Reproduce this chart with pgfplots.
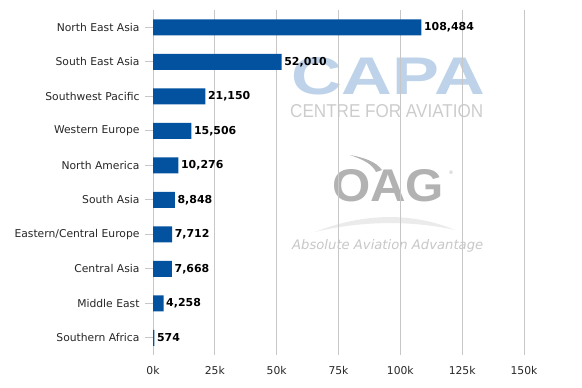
\documentclass[border=0pt]{standalone}
\usepackage{pgfplots}
\pgfplotsset{compat=1.18}
\usepackage{pgfplotstable}
\usepackage{fontspec}
\setmainfont{DejaVu Sans}
\newfontfamily\capafont{Liberation Sans}
\definecolor{barblue}{RGB}{2,82,160}
\definecolor{capablue}{RGB}{190,211,233}
\definecolor{oaggray}{RGB}{178,178,178}
\pgfplotstableread{
idx value label
0 108484 108,484
1 52010 52,010
2 21150 21,150
3 15506 15,506
4 10276 10,276
5 8848 8,848
6 7712 7,712
7 7668 7,668
8 4258 4,258
9 574 574
}\datatable
\begin{document}
\begin{tikzpicture}
\begin{scope}[x=1bp,y=1bp]
% watermarks
\node[anchor=south west, inner sep=0, text=capablue] at (291,-95) {\resizebox{194bp}{37bp}{\capafont\bfseries CAPA}};
\node[anchor=south west, inner sep=0, text=black!20] at (290,-118) {\resizebox{193bp}{13bp}{\capafont CENTRE FOR AVIATION}};
\node[anchor=south west, inner sep=0, text=oaggray] at (332,-202) {\resizebox{112bp}{32bp}{\capafont\bfseries OAG}};
\fill[oaggray] (350,-155) .. controls (364,-160) and (372,-164) .. (376,-172) -- (382,-170) .. controls (376,-162) and (366,-158) .. (350,-155) -- cycle;
\node[anchor=center, inner sep=0, text=oaggray] at (451,-173) {\fontsize{5}{6}\selectfont ®};
\fill[black!8] (315,-232) .. controls (360,-214) and (410,-211) .. (455,-230) .. controls (410,-220) and (360,-221) .. (315,-232) -- cycle;
\node[anchor=base west, inner sep=0, text=black!22] at (292,-250) {\resizebox{191bp}{!}{\itshape Absolute Aviation Advantage}};
\end{scope}
\begin{axis}[
  at={(153bp,-10bp)}, anchor=north west,
  scale only axis, width=371bp, height=345bp,
  xbar, bar width=16bp,
  xmin=0, xmax=150000, ymin=-0.5, ymax=9.5,
  y dir=reverse,
  ytick={0,...,9},
  yticklabels={North East Asia,South East Asia,Southwest Pacific,Western Europe,North America,South Asia,Eastern/Central Europe,Central Asia,Middle East,Southern Africa},
  xtick={0,25000,50000,75000,100000,125000,150000},
  xticklabels={0k,25k,50k,75k,100k,125k,150k},
  scaled x ticks=false,
  xmajorgrids,
  grid style={draw=black!22, line width=0.9pt},
  axis line style={draw=none},
  xtick style={draw=none},
  ytick style={draw=black!22, line width=0.9pt},
  tick align=outside, ytick pos=left,
  major tick length=8bp,
  ticklabel style={font=\fontsize{10.8}{12}\selectfont, text=black!85},
  xticklabel style={yshift=0bp},
  yticklabel style={xshift=-2bp},
  nodes near coords,
  point meta=explicit symbolic,
  every node near coord/.append style={font=\fontsize{11}{12}\selectfont\bfseries, anchor=west, text=black, inner sep=2.5bp},
]
\addplot[fill=barblue, draw=none] table[x=value, y=idx, meta=label] {\datatable};
\end{axis}
\pgfresetboundingbox
\path[use as bounding box] (0,0) rectangle (582bp,-388bp);
\end{tikzpicture}
\end{document}
